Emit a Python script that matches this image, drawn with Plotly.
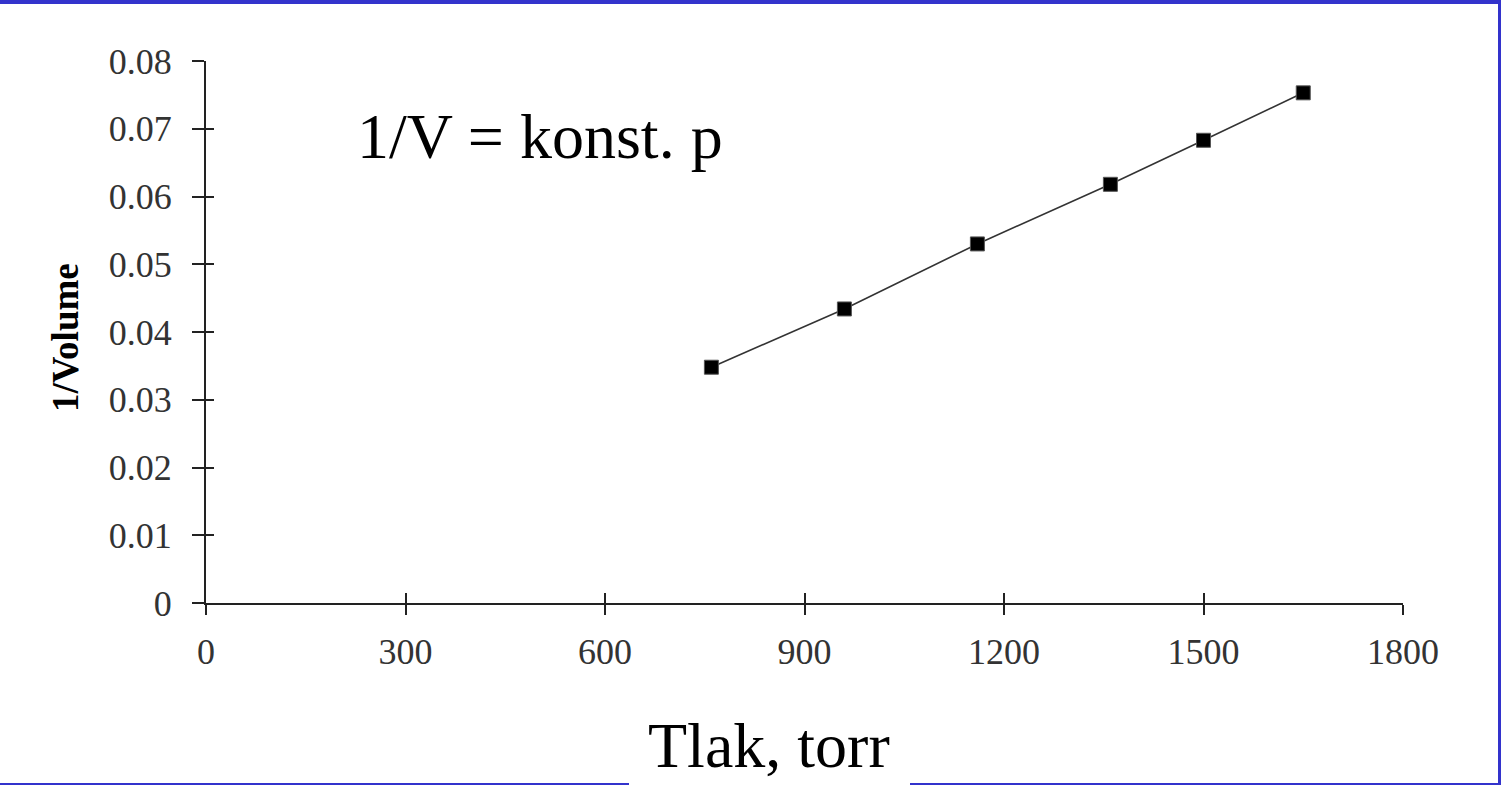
import plotly.graph_objects as go

# Data
pressure_torr = [760, 960, 1160, 1360, 1500, 1650]
inv_volume = [0.0348, 0.0434, 0.0530, 0.0618, 0.0683, 0.0753]

x_ticks = [0, 300, 600, 900, 1200, 1500, 1800]
y_ticks = [0, 0.01, 0.02, 0.03, 0.04, 0.05, 0.06, 0.07, 0.08]
y_tick_labels = ["0", "0.01", "0.02", "0.03", "0.04", "0.05", "0.06", "0.07", "0.08"]

W, H = 1501, 785
ML, MR, MT, MB = 206, 98, 61, 182
PW, PH = W - ML - MR, H - MT - MB


def px(xp):
    return (xp - ML) / PW


def py(yp):
    return (H - MB - yp) / PH


SERIF = "Liberation Serif, Times New Roman, serif"
BLUE = "#3333CC"

fig = go.Figure()
fig.add_trace(go.Scatter(
    x=pressure_torr, y=inv_volume, mode="lines+markers",
    line=dict(color="#333333", width=1.6),
    marker=dict(symbol="square", size=14, color="black",
                line=dict(color="#555555", width=1)),
    showlegend=False, hoverinfo="x+y",
))
# invisible trace to activate overlay axes (inner half of crossing ticks)
fig.add_trace(go.Scatter(x=[pressure_torr[0]], y=[inv_volume[0]], xaxis="x2", yaxis="y2",
                         mode="markers", marker=dict(opacity=0), showlegend=False,
                         hoverinfo="skip"))

axis_font = dict(family=SERIF, size=36, color="#333333")
fig.update_layout(
    width=W, height=H,
    margin=dict(l=ML, r=MR, t=MT, b=MB, pad=0),
    paper_bgcolor="white", plot_bgcolor="white",
    xaxis=dict(range=[0, 1800], tickvals=x_ticks, ticktext=[str(v) for v in x_ticks],
               showgrid=False, zeroline=False, showline=True, linecolor="#222222",
               linewidth=2, ticks="outside", ticklen=10, tickwidth=2, tickcolor="#222222",
               tickfont=axis_font, ticklabelstandoff=6),
    yaxis=dict(range=[0, 0.08], tickvals=y_ticks, ticktext=y_tick_labels,
               showgrid=False, zeroline=False, showline=True, linecolor="#222222",
               linewidth=2, ticks="outside", ticklen=12, tickwidth=2, tickcolor="#222222",
               tickfont=axis_font, ticklabelstandoff=13),
    xaxis2=dict(overlaying="x", matches="x", range=[0, 1800], tickvals=x_ticks,
                showticklabels=False, showgrid=False, zeroline=False, showline=False,
                ticks="inside", ticklen=10, tickwidth=2, tickcolor="#222222", side="bottom"),
    yaxis2=dict(overlaying="y", matches="y", range=[0, 0.08], tickvals=y_ticks,
                showticklabels=False, showgrid=False, zeroline=False, showline=False,
                ticks="inside", ticklen=8, tickwidth=2, tickcolor="#222222", side="left"),
)

# Blue frame: top band, right line, bottom line with gap under the axis title
shapes = [
    dict(type="rect", xref="paper", yref="paper", x0=px(0), x1=px(W), y0=py(0), y1=py(4),
         fillcolor=BLUE, line=dict(width=0), layer="above"),
    dict(type="rect", xref="paper", yref="paper", x0=px(1498), x1=px(W), y0=py(0), y1=py(H),
         fillcolor=BLUE, line=dict(width=0), layer="above"),
    dict(type="rect", xref="paper", yref="paper", x0=px(0), x1=px(629), y0=py(783), y1=py(H),
         fillcolor=BLUE, line=dict(width=0), layer="above"),
    dict(type="rect", xref="paper", yref="paper", x0=px(910), x1=px(W), y0=py(783), y1=py(H),
         fillcolor=BLUE, line=dict(width=0), layer="above"),
]
fig.update_layout(shapes=shapes)

fig.add_annotation(text="Tlak, torr", xref="paper", yref="paper",
                   x=px(769), y=py(745), xanchor="center", yanchor="middle",
                   showarrow=False, font=dict(family=SERIF, size=64, color="black"))
fig.add_annotation(text="1/V = konst. p", xref="paper", yref="paper",
                   x=px(355), y=py(136), xanchor="left", yanchor="middle",
                   showarrow=False, font=dict(family=SERIF, size=64, color="black"))
fig.add_annotation(text="<b>1/Volume</b>", xref="paper", yref="paper",
                   x=px(65), y=py(338), xanchor="center", yanchor="middle", textangle=-90,
                   showarrow=False, font=dict(family=SERIF, size=37, color="black"))

fig.write_html("out.html")
